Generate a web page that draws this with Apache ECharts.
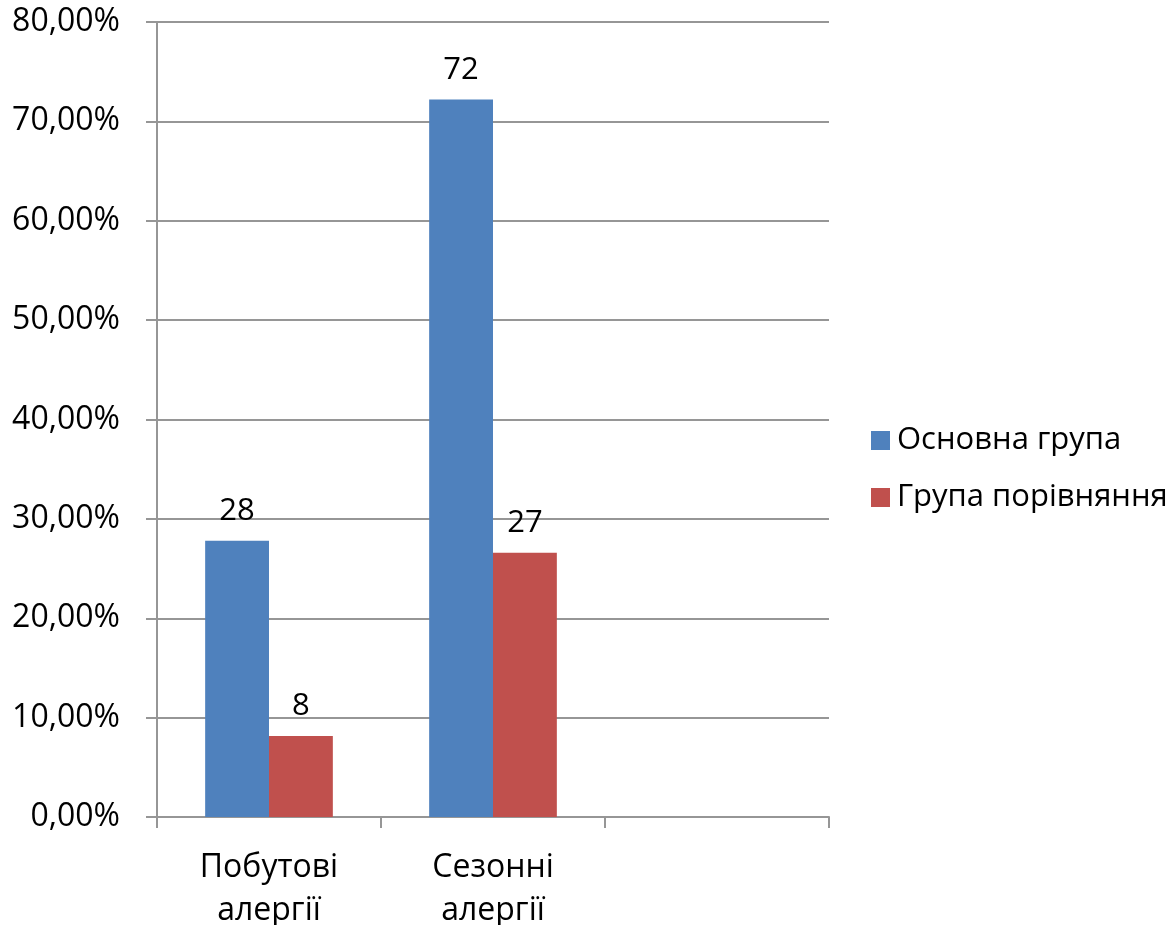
<!DOCTYPE html>
<html><head><meta charset="utf-8">
<script src="https://cdn.jsdelivr.net/npm/echarts@6/dist/echarts.min.js"></script>
<style>html,body{margin:0;padding:0;background:#fff}#c{width:1172px;height:925px}</style>
</head><body><div id="c"></div>
<script>
const categories = ['Побутові\nалергії', 'Сезонні\nалергії', ''];
const seriesNames = ['Основна група', 'Група порівняння'];
const mainGroup = [27.8, 72.2, null];
const compGroup = [8.15, 26.6, null];
const yTicks = { min: 0, max: 80, interval: 10 };
const colors = ['#4F81BD', '#C0504D'];

const FONT = 'Open Sans';
const chart = echarts.init(document.getElementById('c'), null, { renderer: 'canvas' });
const labelCfg = {
  show: true, position: 'top', distance: 14,
  fontFamily: FONT, fontSize: 31, color: '#000',
  formatter: p => Math.round(p.value)
};
chart.setOption({
  animation: false,
  textStyle: { fontFamily: FONT },
  grid: { left: 157, right: 343, top: 22, bottom: 108, containLabel: false, outerBoundsMode: 'none' },
  legend: {
    orient: 'vertical', left: 866, top: 420,
    itemWidth: 19, itemHeight: 19, itemGap: 26,
    icon: 'rect',
    textStyle: { fontFamily: FONT, fontSize: 31, color: '#000', padding: [0, 0, 0, 2] },
    data: seriesNames
  },
  xAxis: {
    type: 'category', data: categories,
    axisLine: { lineStyle: { color: '#969696', width: 2 } },
    axisTick: { show: true, length: 11, alignWithLabel: false, lineStyle: { color: '#969696', width: 2 } },
    axisLabel: { fontFamily: FONT, fontSize: 32, color: '#000', lineHeight: 43, margin: 29, interval: 0 },
    splitLine: { show: false }
  },
  yAxis: {
    type: 'value', min: yTicks.min, max: yTicks.max, interval: yTicks.interval,
    axisLine: { show: true, lineStyle: { color: '#969696', width: 2 } },
    axisTick: { show: true, length: 11, lineStyle: { color: '#969696', width: 2 } },
    axisLabel: { fontFamily: FONT, fontSize: 32, color: '#000', margin: 37,
      formatter: v => v.toFixed(2).replace('.', ',') + '%' },
    splitLine: { lineStyle: { color: '#969696', width: 2 } }
  },
  series: [
    { name: seriesNames[0], type: 'bar', data: mainGroup, itemStyle: { color: colors[0] },
      barGap: '0%', barCategoryGap: '43%', label: labelCfg },
    { name: seriesNames[1], type: 'bar', data: compGroup, itemStyle: { color: colors[1] },
      barGap: '0%', barCategoryGap: '43%', label: labelCfg }
  ]
});
</script></body></html>
